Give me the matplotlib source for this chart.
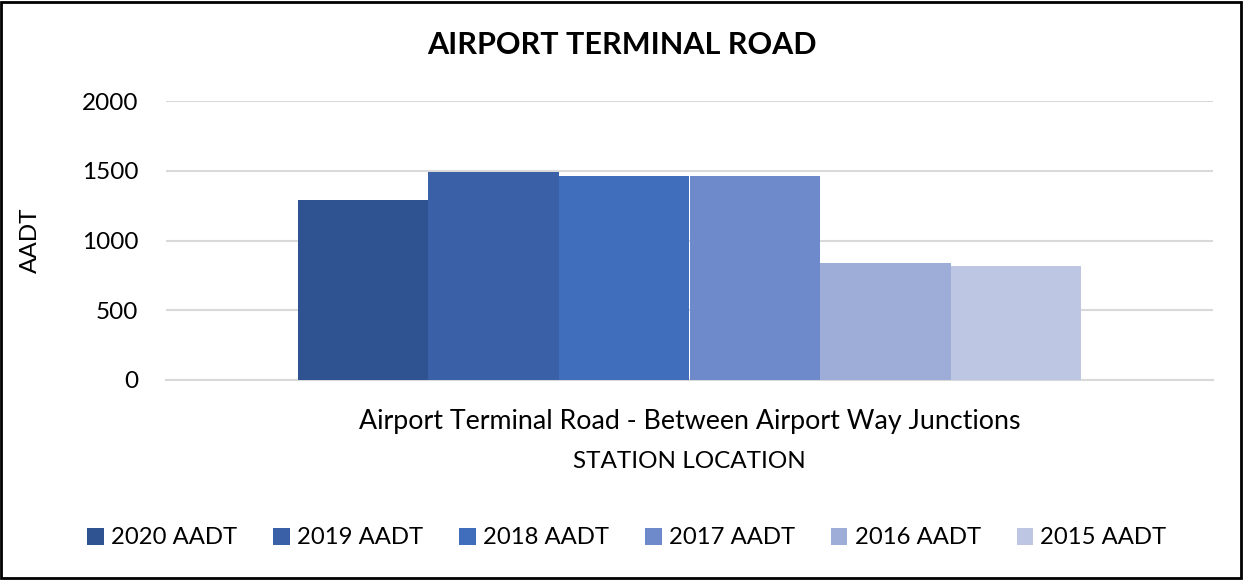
import matplotlib
matplotlib.use("Agg")
import matplotlib.pyplot as plt
from matplotlib.patches import Patch, Rectangle
import numpy as np

plt.rcParams['font.family'] = ['Lato', 'DejaVu Sans']

title = "AIRPORT TERMINAL ROAD"
category = "Airport Terminal Road - Between Airport Way Junctions"
series = ["2020 AADT", "2019 AADT", "2018 AADT", "2017 AADT", "2016 AADT", "2015 AADT"]
values = [1288, 1489, 1462, 1462, 836, 819]
colors = ['#2F5290', '#3A60A8', '#406EBD', '#6E8ACB', '#9EADD7', '#BDC7E3']
yticks = [0, 500, 1000, 1500, 2000]

fig = plt.figure(figsize=(12.44, 5.80), dpi=100)
ax = fig.add_axes([166/1244, 1-380/580, (1213-166)/1244, (380-101)/580])

n = len(series)
group = 0.748
w = group / n
for i, (s, v, c) in enumerate(zip(series, values, colors)):
    ax.bar(-group/2 + w*(i+0.5), v, width=w, color=c, label=s, zorder=3)

ax.set_xlim(-0.5, 0.5)
ax.set_ylim(0, 2000)
ax.set_yticks(yticks)
ax.set_yticklabels([str(t) for t in yticks], fontsize=17.5, color='#000000')
ax.tick_params(axis='y', length=0, pad=20)
ax.set_xticks([0])
ax.set_xticklabels([category], fontsize=19.3)
ax.tick_params(axis='x', length=0, pad=21)
ax.grid(axis='y', color='#D9D9D9', linewidth=1.5, zorder=0)
for sp in ['top', 'right', 'left']:
    ax.spines[sp].set_visible(False)
ax.spines['bottom'].set_color('#D9D9D9')
ax.spines['bottom'].set_linewidth(1.5)

fig.text(30/1244, 1-240/580, "AADT", rotation=90, fontsize=17.5, ha='center', va='center')
fig.text(689.5/1244, 1-462/580, "STATION LOCATION", fontsize=17.5, ha='center', va='center')
fig.text(622/1244, 1-45/580, title, fontsize=22, fontweight='bold', ha='center', va='center')

handles = [Patch(facecolor=c, edgecolor='none') for c in colors]
fig.legend(handles, series, loc='center', bbox_to_anchor=(627/1244, 1-538/580), ncol=n,
           frameon=False, fontsize=17.2, handlelength=0.7, handleheight=0.7,
           handletextpad=0.3, columnspacing=1.5)

fig.patches.append(Rectangle((1/1244, 2/580), 1240/1244, 576/580, transform=fig.transFigure,
                             fill=False, edgecolor='black', linewidth=2))

fig.savefig("out.png", dpi=100)
